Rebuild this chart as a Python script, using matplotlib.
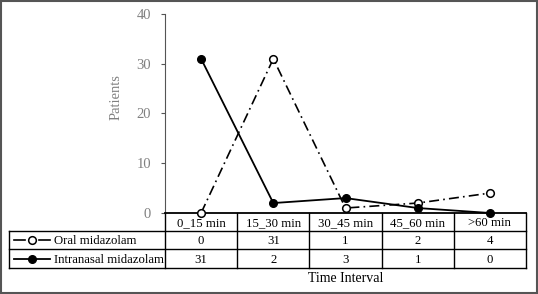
import numpy as np
import matplotlib.pyplot as plt
from matplotlib.lines import Line2D
from matplotlib.patches import Rectangle

plt.rcParams['font.family'] = ['Liberation Serif', 'DejaVu Serif']

intervals = ['0_15 min', '15_30 min', '30_45 min', '45_60 min', '>60 min']
series = ['Oral midazolam', 'Intranasal midazolam']
oral = [0, 31, 1, 2, 4]
intranasal = [31, 2, 3, 1, 0]

W, H = 538, 294
fig = plt.figure(figsize=(W / 100, H / 100), dpi=100)
# axes in pixels: x 165..526, y 14..213
ax = fig.add_axes([165 / W, 1 - 213 / H, 361 / W, 199 / H])

x = np.arange(len(intervals))
ax.plot(x, oral, color='black', lw=1.2, ls=(0, (6, 2.5, 1, 2.5)),
        marker='o', ms=5.5, mfc='white', mec='black', mew=1.1, clip_on=False, zorder=3)
ax.plot(x, intranasal, color='black', lw=1.3, ls='-',
        marker='o', ms=5.5, mfc='black', mec='black', clip_on=False, zorder=3)

ax.set_xlim(-0.5, len(intervals) - 0.5)
ax.set_ylim(0, 40)
ax.set_yticks([0, 10, 20, 30, 40])
ax.set_xticks([])
for s in ['top', 'right']:
    ax.spines[s].set_visible(False)
ax.spines['left'].set_color('#555555')
ax.spines['bottom'].set_color('black')
ax.spines['bottom'].set_linewidth(1.3)
ax.tick_params(axis='y', colors='#555555', labelcolor='#808080', labelsize=10.5,
               length=3, width=0.8, pad=7)
ax.set_ylabel('Patients', color='#808080', fontsize=10.5, labelpad=10)
ax.yaxis.set_label_coords(-0.118, (213 - 97) / 199)

# data table below the axes
def ay(p):
    return (213 - p) / 199

def axx(p):
    return (p - 165) / 361

tr = ax.transAxes
y_rows = [ay(213), ay(231), ay(249), ay(268)]
n = len(intervals)
lw = 1.0
# vertical column lines
for i in range(n + 1):
    ax.plot([i / n, i / n], [y_rows[0], y_rows[3]], color='black', lw=lw,
            transform=tr, clip_on=False)
# horizontal lines
for yy in y_rows[1:]:
    ax.plot([axx(9), 1], [yy, yy], color='black', lw=lw, transform=tr, clip_on=False)
ax.plot([axx(9), axx(9)], [y_rows[1], y_rows[3]], color='black', lw=lw,
        transform=tr, clip_on=False)

fs = 9.2
# text baselines (pixel rows)
base = [226, 244, 263]
for i, lab in enumerate(intervals):
    ax.text((i + 0.5) / n, ay(base[0]), lab, transform=tr,
            ha='center', va='baseline', fontsize=fs)
for r, vals in enumerate([oral, intranasal]):
    yb = ay(base[r + 1])
    for i, v in enumerate(vals):
        ax.text((i + 0.5) / n, yb, str(v), transform=tr,
                ha='center', va='baseline', fontsize=fs)
    ax.text(axx(54), yb, series[r], transform=tr, ha='left', va='baseline', fontsize=fs)

# legend keys
yc0 = (y_rows[1] + y_rows[2]) / 2
yc1 = (y_rows[2] + y_rows[3]) / 2
for seg in ([14, 25], [39, 50]):
    ax.add_line(Line2D([axx(seg[0]), axx(seg[1])], [yc0, yc0], color='black', lw=1.2,
                       transform=tr, clip_on=False))
ax.add_line(Line2D([axx(32)], [yc0], marker='o', ms=5.5, mfc='white', mec='black',
                   mew=1.1, ls='none', transform=tr, clip_on=False, zorder=4))
ax.add_line(Line2D([axx(14), axx(50)], [yc1, yc1], color='black', lw=1.3,
                   transform=tr, clip_on=False))
ax.add_line(Line2D([axx(32)], [yc1], marker='o', ms=5.5, mfc='black', mec='black',
                   ls='none', transform=tr, clip_on=False, zorder=4))

ax.text(0.5, ay(278), 'Time Interval', transform=tr, ha='center', va='center', fontsize=10)

# outer frame
fig.patches.append(Rectangle((0.002, 0.003), 0.996, 0.994, transform=fig.transFigure,
                             fill=False, edgecolor='#555555', lw=1.5))

fig.savefig('out.png', dpi=100)
